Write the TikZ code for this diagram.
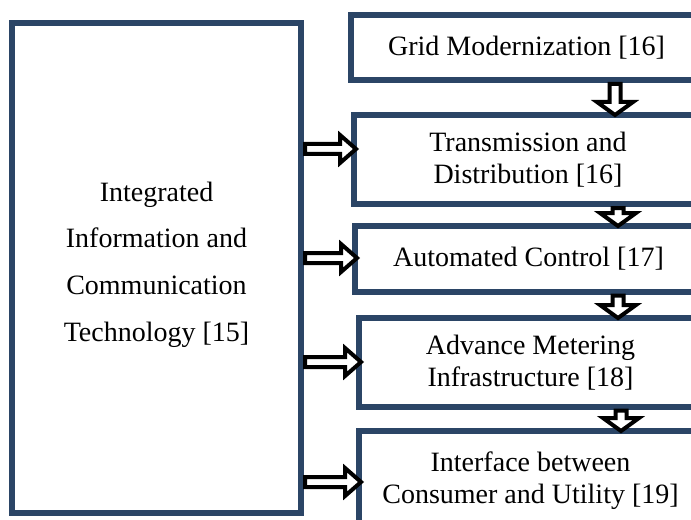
\documentclass[tikz,border=0pt]{standalone}
\usepackage{fontspec}
\setmainfont{Liberation Serif}
\usepackage{tikz}
\usetikzlibrary{calc, positioning}
\definecolor{boxBlue}{RGB}{43,69,102}
\tikzset{
    mainBox/.style={rectangle, draw=boxBlue, line width=4.5pt, fill=white, inner sep=0pt},
    mainText/.style={align=center, inner sep=0pt, font=\fontsize{21}{35}\selectfont},
    subBox/.style={rectangle, draw=boxBlue, line width=4.5pt, fill=white, inner sep=0pt, align=center, font=\fontsize{21}{24}\selectfont},
    blockArrow/.style={draw=black, fill=white, line width=3pt, line join=miter},
}
\newcommand{\drawRightArrow}[3]{
    \coordinate (#2-s) at (#1.east |- 0,#3);
    \coordinate (#2-t) at ($(#2.west |- 0,#3)+(5,0)$);
    \draw[blockArrow] ($(#2-s)+(1,-5)$) -- ($(#2-t)+(-16,-5)$) -- ($(#2-t)+(-16,-14)$) -- (#2-t)
        -- ($(#2-t)+(-16,14)$) -- ($(#2-t)+(-16,5)$) -- ($(#2-s)+(1,5)$) -- cycle;
}
\newcommand{\drawDownArrow}[3]{
    \coordinate (#1-d) at (#3,0 |- #1.south);
    \coordinate (#1-e) at ($(#3,0 |- #2.north)+(0,3)$);
    \draw[blockArrow] ($(#1-d)+(-5.5,1)$) -- ($(#1-e)+(-5.5,-13)$) -- ($(#1-e)+(-18,-13)$) -- (#1-e)
        -- ($(#1-e)+(18,-13)$) -- ($(#1-e)+(5.5,-13)$) -- ($(#1-d)+(5.5,1)$) -- cycle;
}

\begin{document}
\begin{tikzpicture}[x=0.75pt, y=-0.75pt]
        \useasboundingbox (0,0) rectangle (691,520);
        \clip (0,0) rectangle (691,520);

        \node[mainBox, minimum width=289*0.75pt, minimum height=490*0.75pt] (ict) at (156.5,268) {};
        \node[mainText] (ictText) at ($(ict.center)+(0,-3.5)$) {Integrated\\Information and\\Communication\\Technology [15]};

        \node[subBox, minimum width=351*0.75pt, minimum height=65*0.75pt] (grid) at (526.5,47.5) {Grid Modernization [16]};
        \node[subBox, minimum width=348*0.75pt, minimum height=89*0.75pt] (trans) at (528,159.5) {Transmission and\\Distribution [16]};
        \node[subBox, minimum width=347*0.75pt, minimum height=65.5*0.75pt] (ctrl) at (528.5,258.75) {Automated Control [17]};
        \node[subBox, minimum width=343*0.75pt, minimum height=88.5*0.75pt] (ami) at (530.5,362.25) {Advance Metering\\Infrastructure [18]};
        \node[subBox, minimum width=343*0.75pt, minimum height=100*0.75pt] (iface) at (530.5,481) {Interface between\\Consumer and Utility [19]};

        \drawRightArrow{ict}{trans}{149}
        \drawRightArrow{ict}{ctrl}{258}
        \drawRightArrow{ict}{ami}{362}
        \drawRightArrow{ict}{iface}{482}

        \drawDownArrow{grid}{trans}{615}
        \drawDownArrow{trans}{ctrl}{618}
        \drawDownArrow{ctrl}{ami}{618}
        \drawDownArrow{ami}{iface}{621}

    \end{tikzpicture}
\end{document}
